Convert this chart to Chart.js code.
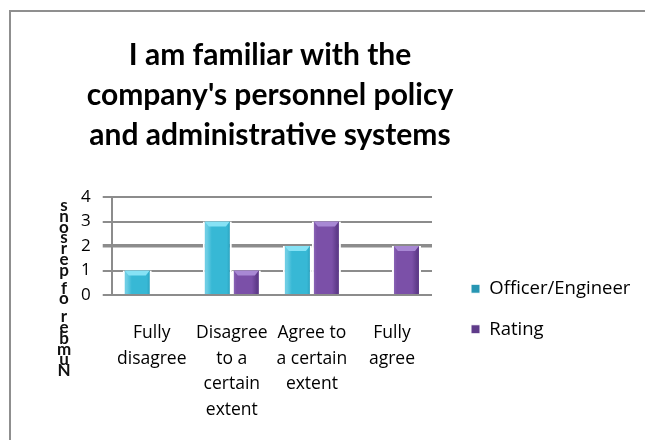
<!DOCTYPE html>
<html>
<head>
<meta charset="utf-8">
<script src="https://cdn.jsdelivr.net/npm/chart.js@4.4.1/dist/chart.umd.min.js"></script>
<style>
  html, body { margin: 0; padding: 0; background: #fff; overflow: hidden; }
  #wrap { position: relative; width: 645px; height: 440px; overflow: hidden; }
  #frame { position: absolute; left: 9px; top: 10px; width: 700px; height: 500px; border: 2px solid #8f8f8f; box-sizing: border-box; }
  #chart { position: absolute; left: 0; top: 0; }
</style>
</head>
<body>
<div id="wrap">
  <div id="frame"></div>
  <canvas id="chart" width="645" height="440"></canvas>
</div>
<script>
// chart data
const chartTitle = ["I am familiar with the", "company's personnel policy", "and administrative systems"];
const categories = [
  ["Fully", "disagree"],
  ["Disagree", "to a", "certain", "extent"],
  ["Agree to", "a certain", "extent"],
  ["Fully", "agree"]
];
const seriesNames = ["Officer/Engineer", "Rating"];
const officerEngineer = [1, 3, 2, 0];
const rating = [0, 1, 3, 2];
const yTicks = [0, 1, 2, 3, 4];
const yAxisTitle = "Number of persons";

const TEXT_FONT = "'Open Sans'";
const topShine = ["#86e2f5", "#a888d4"];

// horizontal bevel gradient for each bar
function barFill(colors, side) {
  return (ctx) => {
    const chart = ctx.chart;
    const xs = chart.scales.x;
    if (!xs || ctx.dataIndex === undefined) return colors[1];
    const c = xs.getPixelForValue(ctx.dataIndex);
    if (!isFinite(c)) return colors[1];
    const w = 25;
    const x0 = side < 0 ? c - w : c;
    const g = chart.ctx.createLinearGradient(x0, 0, x0 + w, 0);
    g.addColorStop(0, colors[0]);
    g.addColorStop(0.2, colors[1]);
    g.addColorStop(0.8, colors[1]);
    g.addColorStop(1, colors[2]);
    return g;
  };
}

// light cap on top of each bar
const barBevel = {
  id: "barBevel",
  afterDatasetsDraw(chart) {
    const ctx = chart.ctx;
    ctx.save();
    chart.data.datasets.forEach((ds, i) => {
      chart.getDatasetMeta(i).data.forEach(bar => {
        const { x, y, base, width } = bar.getProps(["x", "y", "base", "width"], true);
        if (base - y < 2) return;
        const l = x - width / 2 + 2, r = x + width / 2 - 2;
        ctx.fillStyle = topShine[i];
        ctx.beginPath();
        ctx.moveTo(l, y);
        ctx.lineTo(r, y);
        ctx.lineTo(r - 4, y + 5);
        ctx.lineTo(l + 4, y + 5);
        ctx.closePath();
        ctx.fill();
      });
    });
    ctx.restore();
  }
};

// the axis title is drawn as upright stacked letters, like the original
const stackedTitle = {
  id: "stackedTitle",
  afterDraw(chart) {
    const ctx = chart.ctx;
    ctx.save();
    ctx.font = "bold 17px Lato";
    ctx.fillStyle = "#111";
    ctx.textAlign = "center";
    ctx.textBaseline = "alphabetic";
    const chars = yAxisTitle.split("").reverse();
    let y = 211;
    chars.forEach(ch => {
      if (ch !== " ") ctx.fillText(ch, 64, y);
      y += ch === " " ? 7 : 10.8;
    });
    ctx.restore();
  }
};

// move title and legend to where the original has them
const boxNudge = {
  id: "boxNudge",
  beforeDraw(chart) {
    const t = chart.titleBlock;
    const tw = t.right - t.left;
    t.left = 270 - tw / 2;
    t.right = 270 + tw / 2;
    const lg = chart.legend;
    lg.left = 449;
    lg.right = 645;
    lg.width = 196;
    lg.top = 239;
    lg.bottom = 379;
    lg.height = 140;
  }
};

new Chart(document.getElementById("chart"), {
  type: "bar",
  data: {
    labels: categories,
    datasets: [
      {
        label: seriesNames[0],
        data: officerEngineer,
        backgroundColor: barFill(["#6ccde4", "#37b8d5", "#2796b3"], -1),
        borderColor: "#fff",
        borderWidth: { left: 2, right: 2, top: 0, bottom: 0 },
        borderSkipped: false
      },
      {
        label: seriesNames[1],
        data: rating,
        backgroundColor: barFill(["#9270bd", "#7b50a8", "#5f3b8a"], 1),
        borderColor: "#fff",
        borderWidth: { left: 2, right: 2, top: 0, bottom: 0 },
        borderSkipped: false
      }
    ]
  },
  options: {
    responsive: false,
    animation: false,
    layout: { padding: { left: 69, right: 92, top: 8, bottom: 0 } },
    datasets: {
      bar: { categoryPercentage: 0.725, barPercentage: 1 }
    },
    plugins: {
      title: {
        display: true,
        text: chartTitle,
        color: "#000",
        font: { family: "Lato", size: 30, weight: "bold", lineHeight: 1.333 },
        padding: { top: 27, bottom: 42 }
      },
      legend: {
        position: "right",
        align: "center",
        labels: {
          boxWidth: 9,
          boxHeight: 9,
          padding: 22,
          color: "#000",
          font: { family: TEXT_FONT, size: 18.5 }
        }
      },
      tooltip: { enabled: false }
    },
    scales: {
      x: {
        grid: { display: false },
        border: { display: false },
        ticks: {
          color: "#000",
          maxRotation: 0,
          padding: 17,
          font: { family: TEXT_FONT, size: 17.5, lineHeight: 1.47 }
        }
      },
      y: {
        min: 0,
        max: 4,
        afterBuildTicks: (axis) => { axis.ticks = yTicks.map(v => ({ value: v })); },
        grid: {
          color: "#8c8c8c",
          lineWidth: (c) => (c.tick && c.tick.value === 2 ? 3.5 : 2),
          tickLength: 9
        },
        border: { color: "#8c8c8c", width: 2 },
        ticks: {
          color: "#000",
          padding: 12,
          font: { family: TEXT_FONT, size: 17 }
        }
      }
    }
  },
  plugins: [boxNudge, barBevel, stackedTitle]
});
</script>
</body>
</html>
